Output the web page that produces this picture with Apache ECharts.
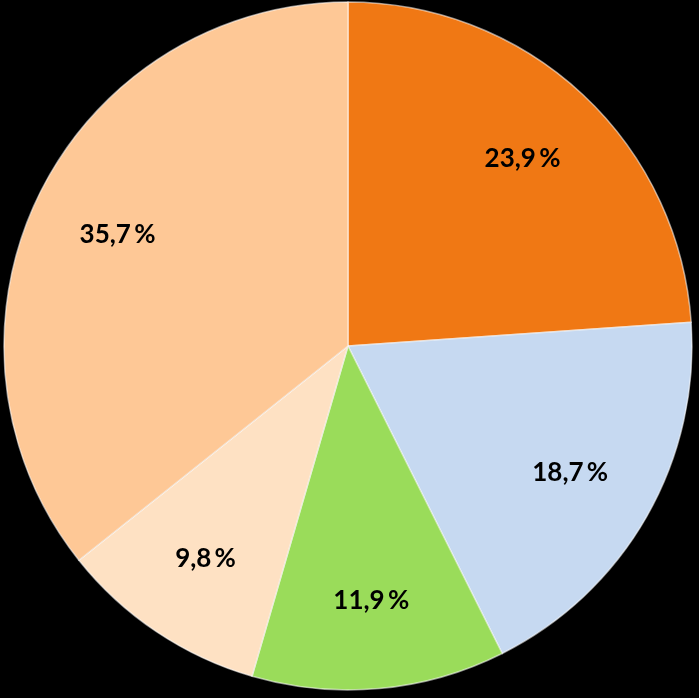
<!DOCTYPE html>
<html>
<head>
<meta charset="utf-8">
<script src="https://cdn.jsdelivr.net/npm/echarts@6/dist/echarts.min.js"></script>
<style>
html,body{margin:0;padding:0;background:#000;}
#chart{width:699px;height:698px;}
</style>
</head>
<body>
<div id="chart"></div>
<script>
const values = [23.9, 18.7, 11.9, 9.8, 35.7];
const labels = ['23,9\u2009%', '18,7\u2009%', '11,9\u2009%', '9,8\u2009%', '35,7\u2009%'];
const colors = ['#F07814', '#C6D9F1', '#9ADC5A', '#FEE1C3', '#FEC896'];

const chart = echarts.init(document.getElementById('chart'));
const R = 344;
const center = [348, 346];
chart.setOption({
  backgroundColor: '#000',
  animation: false,
  series: [
    {
      type: 'pie',
      center: center,
      radius: [0, R],
      startAngle: 90,
      clockwise: true,
      label: { show: false },
      labelLine: { show: false },
      silent: true,
      data: values.map((v, i) => ({
        value: v,
        itemStyle: {
          color: colors[i],
          borderColor: 'rgba(255,255,255,0.55)',
          borderWidth: 1.5
        }
      }))
    },
    {
      type: 'pie',
      center: center,
      radius: [R * 0.47, R],
      startAngle: 90,
      clockwise: true,
      silent: true,
      itemStyle: { color: 'rgba(0,0,0,0)' },
      label: {
        show: true,
        position: 'inside',
        formatter: p => labels[p.dataIndex],
        color: '#000',
        fontFamily: 'Lato',
        fontWeight: 'bold',
        fontSize: 26
      },
      labelLine: { show: false },
      data: values.map(v => ({ value: v }))
    }
  ]
});
</script>
</body>
</html>
